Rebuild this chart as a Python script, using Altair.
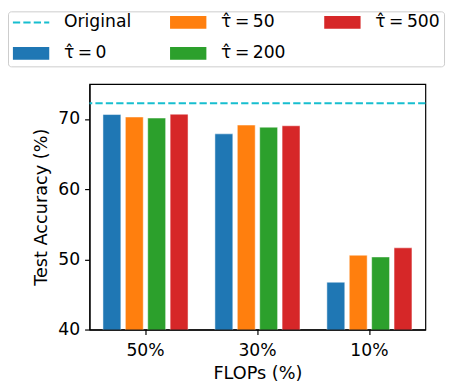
import altair as alt
import pandas as pd

flops = ["50%", "30%", "10%"]
methods = [
    "\u03c4\u0302\u2009=\u20090",
    "\u03c4\u0302\u2009=\u200950",
    "\u03c4\u0302\u2009=\u2009200",
    "\u03c4\u0302\u2009=\u2009500",
]
acc_tau0 = [70.65, 67.9, 46.75]
acc_tau50 = [70.3, 69.15, 50.6]
acc_tau200 = [70.15, 68.85, 50.35]
acc_tau500 = [70.7, 69.05, 51.65]
original_acc = 72.25
original_label = "Original"

series = [acc_tau0, acc_tau50, acc_tau200, acc_tau500]
rows = []
for m, vals in zip(methods, series):
    for f, v in zip(flops, vals):
        rows.append({"FLOPs": f, "method": m, "acc": v})
df = pd.DataFrame(rows)
df_orig = pd.DataFrame([{"method": original_label, "acc": original_acc}])

# legend in row-major order to mimic matplotlib column-major ncol=3 legend
legend_order = [original_label, methods[1], methods[3], methods[0], methods[2]]
legend_colors = ["#17becf", "#ff7f0e", "#d62728", "#1f77b4", "#2ca02c"]

color = alt.Color(
    "method:N",
    scale=alt.Scale(domain=legend_order, range=legend_colors),
    legend=alt.Legend(
        title=None,
        orient="none",
        legendX=-83,
        legendY=-74,
        columns=3,
        direction="horizontal",
        columnPadding=38,
        rowPadding=13.7,
        padding=4,
        clipHeight=14,
        labelOffset=14,
        labelFont="DejaVu Sans",
        labelFontSize=17.5,
        labelColor="black",
        strokeColor="#cccccc",
        fillColor="white",
        cornerRadius=3,
        symbolSize=1369,
        symbolType={"expr": "datum.label == 'Original' ? 'M-1,0H1' : 'M-0.946,-0.297H0.946V0.297H-0.946Z'"},
        symbolStrokeWidth=2,
        symbolDash={"expr": "datum.label == 'Original' ? [7.4, 3.2] : [100, 0]"},
        symbolOpacity=1,
    ),
)

bars = alt.Chart(df).mark_bar(
    clip=True, stroke="white", strokeWidth=1, strokeOpacity=0.5
).encode(
    x=alt.X(
        "FLOPs:N",
        sort=flops,
        scale=alt.Scale(paddingInner=0.2, paddingOuter=0.1),
        axis=alt.Axis(title="FLOPs (%)", labelAngle=0, labelPadding=7, titlePadding=6),
    ),
    xOffset=alt.XOffset(
        "method:N", sort=methods, scale=alt.Scale(paddingInner=0.2, paddingOuter=0.1)
    ),
    y=alt.Y(
        "acc:Q",
        scale=alt.Scale(domain=[40, 75], nice=False, zero=False),
        axis=alt.Axis(title="Test Accuracy (%)", values=[40, 50, 60, 70], labelPadding=5, titlePadding=8),
    ),
    color=color,
)

rule = alt.Chart(df_orig).mark_rule(strokeDash=[7.4, 3.2], strokeWidth=2).encode(
    y="acc:Q",
    color=alt.Color("method:N"),
)

chart = (
    alt.layer(bars, rule)
    .properties(
        width=342,
        height=250,
        autosize=alt.AutoSizeParams(type="none"),
        padding={"left": 83, "top": 74, "right": 22, "bottom": 50},
    )
    .configure_view(stroke="black", strokeWidth=1.2)
    .configure_axis(
        grid=False,
        domainColor="black",
        tickColor="black",
        labelColor="black",
        titleColor="black",
        labelFont="DejaVu Sans",
        titleFont="DejaVu Sans",
        labelFontSize=17.5,
        titleFontSize=18,
        titleFontWeight="normal",
        tickSize=5,
        domainWidth=1.2,
        tickWidth=1.2,
    )
)

chart.save("out.html", embed_options={"renderer": "svg", "actions": False})
